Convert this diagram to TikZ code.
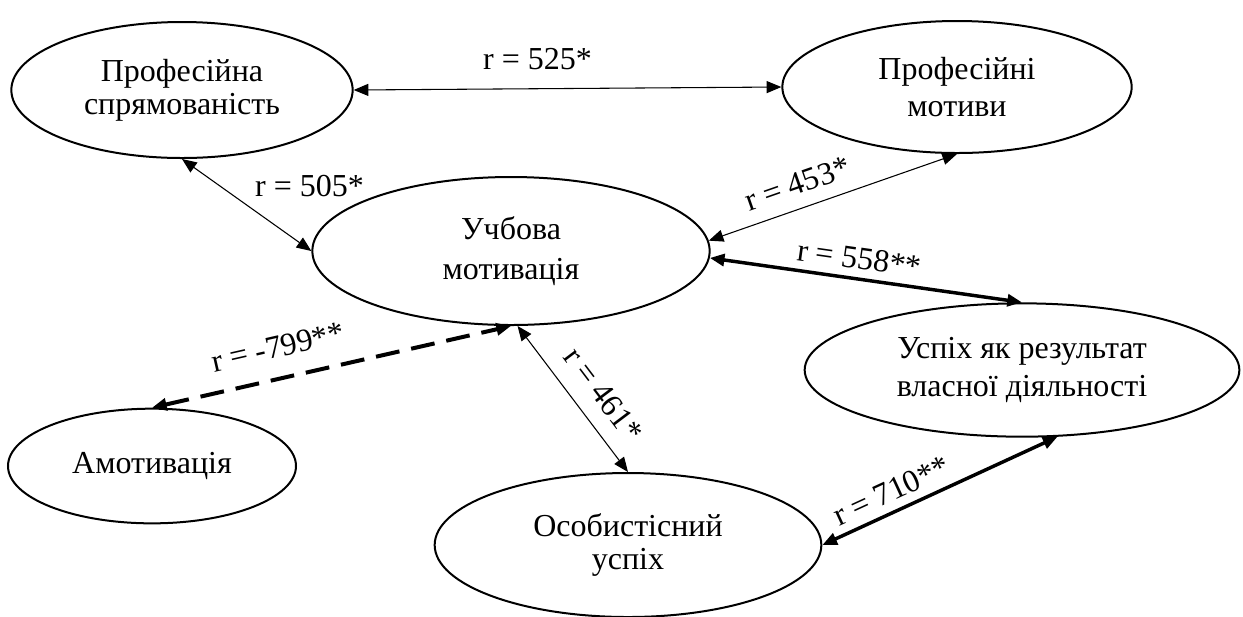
\documentclass[tikz,border=0pt]{standalone}
\usepackage{fontspec}
\setmainfont{Liberation Serif}
\usetikzlibrary{shapes,arrows.meta}
\tikzstyle{oval}=[ellipse, draw, line width=0.75pt, inner sep=0pt, align=center, font=\fontsize{12}{12.5}\selectfont]
\tikzstyle{link}=[{Triangle[length=5.5pt,width=4.5pt]}-{Triangle[length=5.5pt,width=4.5pt]}, line width=0.4pt]
\tikzstyle{linkbold}=[link, line width=1.3pt]
\tikzstyle{linkdash}=[link, line width=1.5pt, dash pattern=on 9pt off 4.5pt]
\tikzstyle{rlabel}=[font=\fontsize{12}{12}\selectfont, above, inner sep=3pt]
\begin{document}
\begin{tikzpicture}[x=0.375pt,y=-0.375pt]
\useasboundingbox (0,0) rectangle (1243,616);

%Ellipses
\node[oval, minimum width=128pt, minimum height=51pt] (prof1) at (182,90) {Професійна\\спрямованість};
\node[oval, minimum width=131pt, minimum height=49.5pt, font=\fontsize{12}{14}\selectfont] (prof2) at (957,87) {Професійні\\мотиви};
\node[oval, minimum width=149pt, minimum height=55.5pt, font=\fontsize{12}{15}\selectfont] (ucheb) at (511,251) {Учбова\\мотивація};
\node[oval, minimum width=163pt, minimum height=50pt, font=\fontsize{12}{14.6}\selectfont] (uspikh) at (1022,370) {Успіх як результат\\власної діяльності};
\node[oval, minimum width=108pt, minimum height=43pt] (amot) at (152,466) {Амотивація};
\node[oval, minimum width=145pt, minimum height=54pt] (osob) at (628,545) {Особистісний\\успіх};

%Connectors
\draw[link] (prof1.east) -- node[rlabel, pos=0.43, above=4pt] (l525) {r = 525*} (prof2.west);
\draw[link] (prof1.south) -- node[rlabel, pos=0.5, above right] (l505) {r = 505*} (ucheb.west);
\draw[link] (ucheb.3) -- node[rlabel, sloped, pos=0.39, above=2pt] (l453) {r = 453*} (prof2.south);
\draw[linkbold] (ucheb.-2) -- node[rlabel, sloped, pos=0.47] (l558) {r = 558**} (uspikh.north);
\draw[linkdash] (amot.north) -- node[rlabel, sloped, pos=0.37, above=4pt] (l799) {r = -799**} (ucheb.south);
\draw[link] (ucheb.-85) -- node[rlabel, sloped, pos=0.58, above=3pt] (l461) {r = 461*} (osob.north);
\draw[linkbold] (osob.east) -- node[rlabel, sloped, pos=0.33] (l710) {r = 710**} (uspikh.-62);

\end{tikzpicture}
\end{document}
